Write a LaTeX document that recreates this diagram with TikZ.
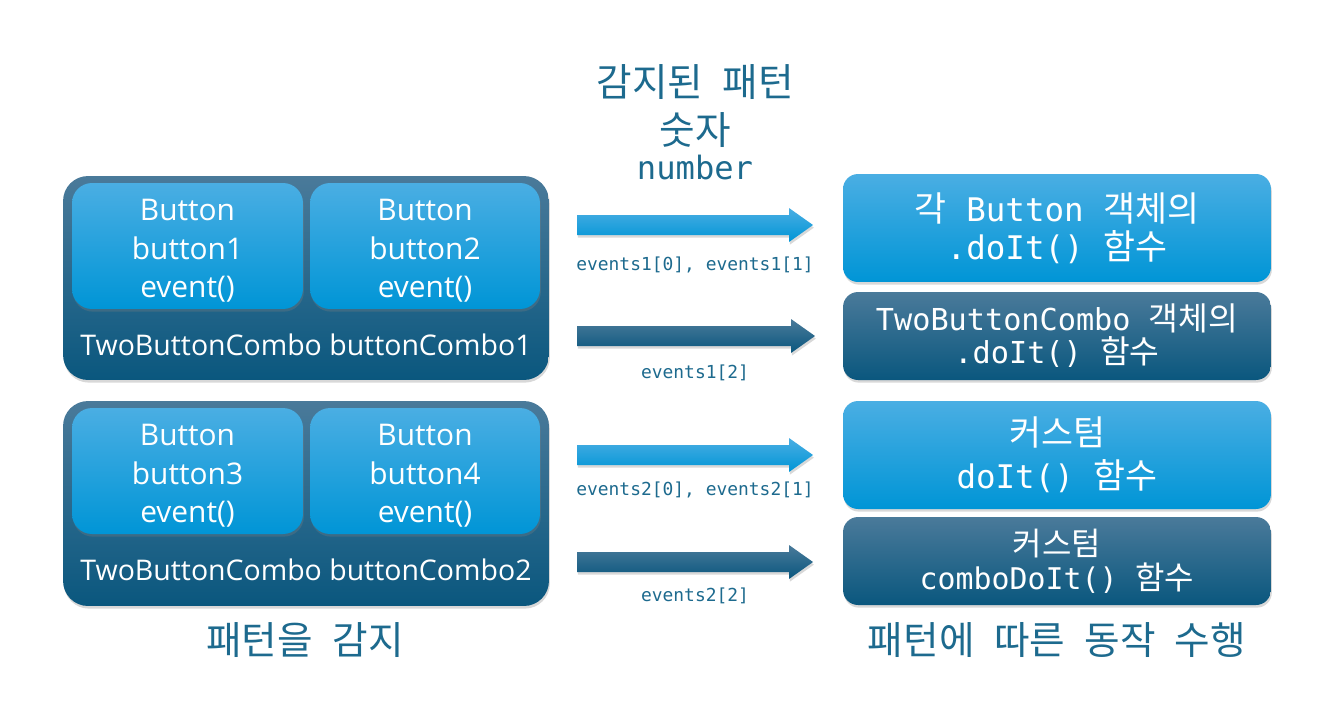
\documentclass[tikz,border=0pt]{standalone}
\usepackage{fontspec}
\setmainfont{Open Sans}
\setmonofont{DejaVu Sans Mono}
\newfontfamily\kr{Noto Sans CJK KR}
\newfontfamily\krs[Scale=1.07]{Noto Sans CJK KR}
\newcommand\kspace{\hspace{0.5em}}
\usetikzlibrary{calc,shadows}
\definecolor{lighttop}{HTML}{4AAEE3}
\definecolor{lightbot}{HTML}{0095D6}
\definecolor{darktop}{HTML}{4A7A9A}
\definecolor{darkbot}{HTML}{0A577E}
\definecolor{titleblue}{HTML}{1D6A8E}
\tikzset{
  shadowed/.style={drop shadow={opacity=0.3,shadow xshift=0.5pt,shadow yshift=-1.5pt}},
  lightbox/.style={shadowed,top color=lighttop,bottom color=lightbot,draw=none,text=white,align=center,inner sep=0pt},
  darkbox/.style={shadowed,top color=darktop,bottom color=darkbot,draw=none,text=white,align=center,inner sep=0pt},
  outerbox/.style={darkbox,rounded corners=0.5cm,minimum width=9.72cm},
  btnbox/.style={lightbox,rounded corners=0.4cm,minimum height=2.52cm},
  btntext/.style={text=white,align=center,font=\fontsize{17}{21.9}\selectfont},
  rightbox/.style={rounded corners=0.3cm,minimum width=8.56cm},
  combolabel/.style={text=white,font=\fontsize{16.2}{19}\selectfont},
  titletext/.style={text=titleblue,font=\kr\fontsize{22}{26}\selectfont},
  evlabel/.style={text=titleblue,font=\ttfamily\fontsize{10.2}{12}\selectfont},
  lightarrow/.style={shadowed,top color=lighttop,bottom color=lightbot},
  darkarrow/.style={shadowed,top color=darktop,bottom color=darkbot},
}
\newcommand\fatarrow[3]{%
  \shade[#3] ($(#1)+(0,-10)$) -- ($(#2)+(-24,-10)$) -- ($(#2)+(-24,-17)$) -- (#2)
    -- ($(#2)+(-24,17)$) -- ($(#2)+(-24,10)$) -- ($(#1)+(0,10)$) -- cycle;}
\begin{document}
\begin{tikzpicture}[x=0.02cm,y=-0.02cm]
\useasboundingbox[fill=white] (0,0) rectangle (1335,711);

% left groups
\node[outerbox,minimum height=4.08cm] (combo1) at (306,278) {};
\node[btnbox,minimum width=4.62cm] (b1) at (187.5,246) {};
\node[btnbox,minimum width=4.60cm] (b2) at (425,246) {};
\node[btntext] (b1t) at (187.5,251) {Button\\button1\\event()};
\node[btntext] (b2t) at (425,251) {Button\\button2\\event()};
\node[combolabel] (c1lab) at (306,345) {TwoButtonCombo buttonCombo1};

\node[outerbox,minimum height=4.10cm] (combo2) at (306,503.5) {};
\node[btnbox,minimum width=4.62cm] (b3) at (187.5,471) {};
\node[btnbox,minimum width=4.60cm] (b4) at (425,471) {};
\node[btntext] (b3t) at (187.5,476) {Button\\button3\\event()};
\node[btntext] (b4t) at (425,476) {Button\\button4\\event()};
\node[combolabel] (c2lab) at (306,570) {TwoButtonCombo buttonCombo2};

\node[titletext] (leftcap) at (305,640) {패턴을\kspace 감지};

% title
\node[titletext] (t1) at (695,82) {감지된\kspace 패턴};
\node[titletext] (t2) at (695,130) {숫자};
\node[text=titleblue,font=\ttfamily\fontsize{18.3}{22}\selectfont] (t3) at (695,168) {number};

% right boxes
\node[lightbox,rightbox,minimum height=2.16cm,font=\ttfamily\fontsize{18.5}{21.6}\selectfont] (ra) at (1057,228)
  {{\krs 각} Button {\krs 객체의}\\.doIt() {\krs 함수}};
\node[darkbox,rightbox,minimum height=1.76cm,font=\ttfamily\fontsize{17.2}{18.8}\selectfont] (rb) at (1057,336)
  {TwoButtonCombo {\krs 객체의}\\.doIt() {\krs 함수}};
\node[lightbox,rightbox,minimum height=2.16cm,font=\ttfamily\fontsize{18.5}{24.5}\selectfont] (rc) at (1057,455)
  {{\krs 커스텀}\\doIt() {\krs 함수}};
\node[darkbox,rightbox,minimum height=1.76cm,font=\ttfamily\fontsize{17}{19.3}\selectfont] (rd) at (1057,561)
  {{\krs 커스텀}\\comboDoIt() {\krs 함수}};

\node[titletext] (rightcap) at (1057,640) {패턴에\kspace 따른\kspace 동작\kspace 수행};

% arrows
\coordinate (a1s) at (577,225); \coordinate (a1e) at (813,225);
\coordinate (a2s) at (577,336); \coordinate (a2e) at (815,336);
\coordinate (a3s) at (577,455); \coordinate (a3e) at (813,455);
\coordinate (a4s) at (577,562); \coordinate (a4e) at (813,562);
\fatarrow{a1s}{a1e}{lightarrow}
\fatarrow{a2s}{a2e}{darkarrow}
\fatarrow{a3s}{a3e}{lightarrow}
\fatarrow{a4s}{a4e}{darkarrow}

\node[evlabel] (l1) at (695,265) {events1[0], events1[1]};
\node[evlabel] (l2) at (695,373) {events1[2]};
\node[evlabel] (l3) at (695,490) {events2[0], events2[1]};
\node[evlabel] (l4) at (695,596) {events2[2]};
\end{tikzpicture}
\end{document}
